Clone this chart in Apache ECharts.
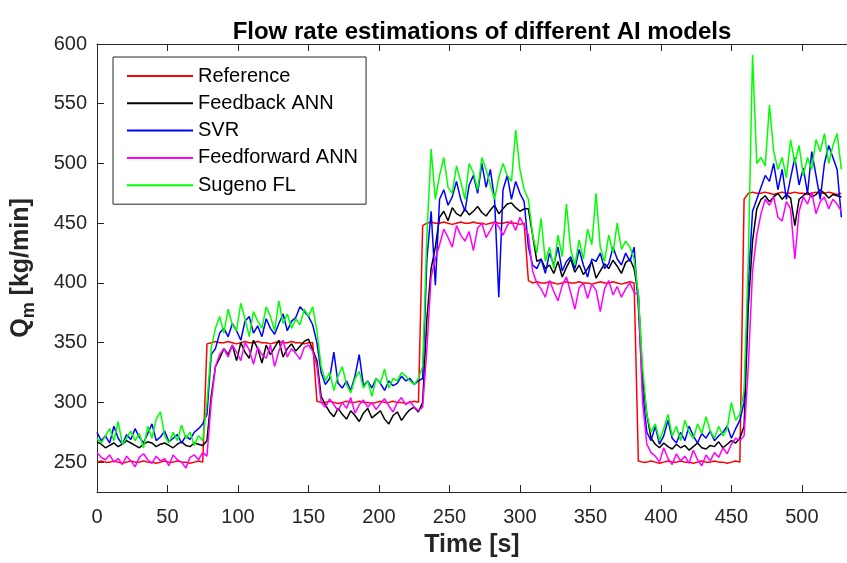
<!DOCTYPE html>
<html>
<head>
<meta charset="utf-8">
<script src="https://cdn.jsdelivr.net/npm/echarts@6/dist/echarts.min.js"></script>
<style>html,body{margin:0;padding:0;background:#fff}#c{width:847px;height:563px}</style>
</head>
<body>
<div id="c"></div>
<script>
const time = [0,3,6,9,12,15,18,21,24,27,30,33,36,39,42,45,48,51,54,57,60,63,66,69,72,75,78,81,84,87,90,93,96,99,102,105,108,111,114,117,120,123,126,129,132,135,138,141,144,147,150,153,156,159,162,165,168,171,174,177,180,183,186,189,192,195,198,201,204,207,210,213,216,219,222,225,228,231,234,237,240,243,246,249,252,255,258,261,264,267,270,273,276,279,282,285,288,291,294,297,300,303,306,309,312,315,318,321,324,327,330,333,336,339,342,345,348,351,354,357,360,363,366,369,372,375,378,381,384,387,390,393,396,399,402,405,408,411,414,417,420,423,426,429,432,435,438,441,444,447,450,453,456,459,462,465,468,471,474,477,480,483,486,489,492,495,498,501,504,507,510,513,516,519,522,525,528];

const reference = [250,251,250,250,251,250,249,250,251,250,250,251,250,250,249,250,251,250,250,251,250,250,249,250,251,250,
349,
350,351,350,350,351,350,349,350,351,350,350,351,350,350,349,350,351,350,350,351,350,350,349,350,350,
301,300,300,301,300,299,300,301,300,300,301,300,300,299,300,301,300,300,301,300,300,299,300,301,300,
448,450,451,450,450,451,450,449,450,451,450,450,451,450,450,449,450,451,450,450,451,450,450,449,450,
402,400,401,400,400,401,400,399,400,401,400,400,401,400,400,399,400,401,400,400,401,400,399,400,401,400,
251,250,250,251,250,249,250,251,250,250,251,250,250,249,250,251,250,250,251,250,250,249,250,251,250,
470,475,476,475,475,476,475,474,475,476,475,475,476,475,475,474,475,476,475,475,476,475,474,475];

const feedbackANN = [267,265,262,264,266,263,265,268,266,264,262,265,267,266,263,265,266,264,262,265,267,264,263,266,265,264,
268,
305,330,337,345,340,348,335,350,342,337,352,345,333,348,340,346,352,338,345,349,343,347,351,353,344,
335,305,298,292,288,295,290,286,293,289,284,291,295,287,290,293,286,282,289,292,285,290,294,296,292,
300,370,412,430,455,460,452,463,458,456,462,457,460,464,459,456,461,465,458,462,466,467,463,460,462,
462,440,418,420,412,415,408,418,405,413,420,409,415,407,412,418,404,410,416,412,419,414,408,417,420,412,
390,320,290,270,265,262,266,263,261,265,262,264,260,263,266,262,261,264,263,267,262,265,268,266,270,
280,380,435,462,470,473,468,472,475,470,474,471,448,470,473,476,472,474,478,475,471,474,473,472];

const svr = [275,268,272,266,280,270,265,273,269,278,271,266,274,282,268,271,276,267,270,273,266,272,269,275,278,282,
290,
340,345,358,362,355,366,360,352,368,372,358,364,355,370,362,357,366,374,360,368,371,380,376,372,365,
350,325,315,320,342,316,312,318,310,322,340,314,318,312,320,316,310,318,314,316,322,318,320,315,318,
320,420,460,398,470,478,465,472,485,470,460,482,490,475,500,480,495,470,388,478,490,470,485,475,468,
430,415,412,420,408,425,415,430,410,418,422,412,428,415,405,420,418,425,412,416,430,420,415,425,418,430,
380,310,275,268,280,265,272,285,270,266,275,268,280,272,266,274,270,276,268,272,275,280,270,278,285,
300,400,460,470,480,490,485,500,478,495,470,488,505,482,496,475,510,490,470,500,515,505,495,455];

const feedforwardANN = [258,254,252,256,250,253,248,255,251,246,254,257,252,249,255,251,253,247,256,252,250,245,254,256,252,258,
255,
300,330,340,345,338,348,342,335,350,344,332,346,340,337,348,330,343,352,338,345,341,336,346,348,343,
330,300,296,303,298,293,300,295,304,291,298,302,296,300,294,299,303,297,292,300,304,298,301,296,293,
296,345,405,420,432,445,438,430,448,440,435,443,427,446,450,438,444,451,447,440,448,452,444,455,448,
440,410,400,395,388,402,393,385,398,405,392,378,396,400,387,399,394,376,395,402,390,397,388,395,400,392,
390,300,265,258,255,250,262,253,248,257,251,255,249,260,252,247,256,251,258,254,262,257,265,270,268,
272,330,410,440,458,470,465,472,455,452,468,462,420,460,472,466,476,458,468,472,462,470,466,460];

const sugenoFL = [270,266,272,278,268,284,265,270,276,268,274,262,280,270,286,292,272,266,275,268,281,270,275,264,272,268,
300,
345,362,372,358,378,365,360,383,370,355,376,368,362,380,372,360,385,366,374,362,370,365,378,372,380,
360,330,318,325,310,322,330,315,308,320,326,312,318,305,320,316,328,312,320,318,325,322,318,315,320,
330,440,512,470,490,505,480,475,498,485,470,500,492,478,505,495,482,470,488,500,490,485,528,495,478,
470,440,425,454,418,430,412,440,422,466,428,415,436,420,445,432,475,430,418,440,425,450,428,435,430,420,
390,330,290,275,282,268,278,290,272,280,268,285,275,270,282,274,288,276,270,280,272,278,300,285,290,
310,420,591,500,505,498,549,510,495,505,488,520,500,515,490,505,495,520,510,525,500,515,525,495];

const seriesNames = ['Reference','Feedback ANN','SVR','Feedforward ANN','Sugeno FL'];
const seriesValues = [reference, feedbackANN, svr, feedforwardANN, sugenoFL];
const seriesColors = ['#ff0000','#000000','#0000ff','#ff00ff','#00ff00'];
const xTicks = [0,50,100,150,200,250,300,350,400,450,500];
const yTicks = [250,300,350,400,450,500,550,600];

const FONT = '"Liberation Sans", Arial, Helvetica, sans-serif';
const AX = '#262626';

const chart = echarts.init(document.getElementById('c'), null, {renderer: 'canvas'});
const series = seriesNames.map((n, k) => ({
  name: n,
  type: 'line',
  xAxisIndex: 0,
  yAxisIndex: 0,
  showSymbol: false,
  symbol: 'none',
  lineStyle: {width: 1.5, color: seriesColors[k]},
  itemStyle: {color: seriesColors[k]},
  data: time.map((t, i) => [t, seriesValues[k][i]])
}));

chart.setOption({
  animation: false,
  backgroundColor: '#ffffff',
  title: {
    text: 'Flow rate estimations of different AI models',
    left: 477, top: 15, textAlign: 'center',
    textStyle: {fontFamily: FONT, fontSize: 24, fontWeight: 'bold', color: '#000'}
  },
  grid: {left: 97, right: 0, top: 44, bottom: 67, containLabel: false},
  legend: {
    orient: 'vertical',
    left: 113, top: 57,
    padding: [9, 8, 9, 14],
    itemGap: 7.3,
    itemWidth: 66,
    itemHeight: 2,
    icon: 'rect',
    backgroundColor: '#fff',
    borderColor: AX,
    borderWidth: 1,
    borderRadius: 0,
    textStyle: {fontFamily: FONT, fontSize: 20, color: '#000'},
    data: seriesNames
  },
  xAxis: [{
    type: 'value', min: 0, max: 532, position: 'bottom',
    name: 'Time [s]', nameLocation: 'middle', nameGap: 41,
    nameTextStyle: {fontFamily: FONT, fontSize: 25, fontWeight: 'bold', color: AX},
    axisLine: {show: true, onZero: false, lineStyle: {color: AX, width: 1}},
    axisTick: {show: true, inside: true, length: 7, customValues: xTicks, lineStyle: {color: AX}},
    axisLabel: {customValues: xTicks, margin: 15, fontFamily: FONT, fontSize: 20, color: AX},
    splitLine: {show: false}
  }, {
    type: 'value', min: 0, max: 532, position: 'top',
    axisLine: {show: true, onZero: false, lineStyle: {color: AX, width: 1}},
    axisTick: {show: true, inside: true, length: 7, customValues: xTicks, lineStyle: {color: AX}},
    axisLabel: {show: false},
    splitLine: {show: false}
  }],
  yAxis: [{
    type: 'value', min: 225, max: 600, position: 'left',
    name: '{a|Q}{b|m}{a| [kg/min]}', nameLocation: 'middle', nameGap: 59, nameRotate: 90,
    nameTextStyle: {
      color: AX,
      rich: {
        a: {fontFamily: FONT, fontSize: 25, fontWeight: 'bold', color: AX, lineHeight: 34},
        b: {fontFamily: FONT, fontSize: 18, fontWeight: 'bold', color: AX, verticalAlign: 'bottom', lineHeight: 18}
      }
    },
    axisLine: {show: true, onZero: false, lineStyle: {color: AX, width: 1}},
    axisTick: {show: true, inside: true, length: 7, customValues: yTicks, lineStyle: {color: AX}},
    axisLabel: {customValues: yTicks, margin: 10, fontFamily: FONT, fontSize: 20, color: AX},
    splitLine: {show: false}
  }],
  series: series
});
</script>
</body>
</html>
